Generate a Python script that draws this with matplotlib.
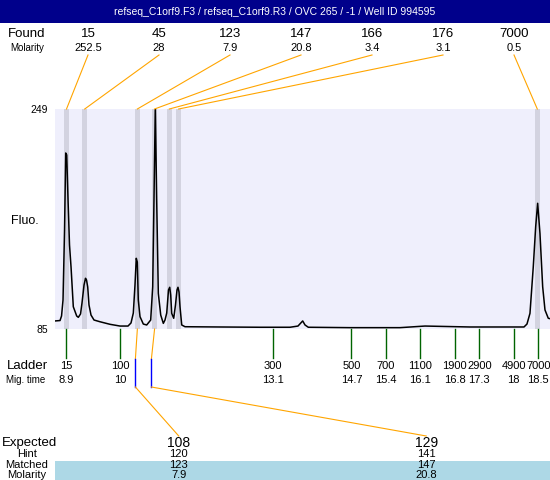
import numpy as np
import matplotlib
matplotlib.use('Agg')
import matplotlib.pyplot as plt
from matplotlib.patches import Rectangle

plt.rcParams['font.family'] = ['Liberation Sans', 'DejaVu Sans']

# --- data ---
title = 'refseq_C1orf9.F3 / refseq_C1orf9.R3 / OVC 265 / -1 / Well ID 994595'

found_size = ['15', '45', '123', '147', '166', '176', '7000']
found_molarity = ['252.5', '28', '7.9', '20.8', '3.4', '3.1', '0.5']
found_time = [8.91, 9.28, 10.35, 10.70, 11.00, 11.19, 18.48]

ladder_size = [15, 100, 300, 500, 700, 1100, 1900, 2900, 4900, 7000]
ladder_time = [8.9, 10, 13.1, 14.7, 15.4, 16.1, 16.8, 17.3, 18, 18.5]

expected = ['108', '129']
hint = [120, 141]
matched = ['123', '147']
matched_molarity = ['7.9', '20.8']
matched_time = [10.35, 10.70]

trace_time = [8.676, 8.778, 8.809, 8.839, 8.870, 8.894, 8.914, 8.941, 8.971, 9.002,
              9.048, 9.117, 9.150, 9.195, 9.225, 9.266, 9.296, 9.317, 9.341, 9.367,
              9.408, 9.469, 9.591, 9.794, 9.998, 10.160, 10.221, 10.268, 10.302, 10.328,
              10.349, 10.369, 10.404, 10.471, 10.540, 10.621, 10.662, 10.688, 10.715, 10.743,
              10.776, 10.825, 10.878, 10.912, 10.947, 10.983, 11.008, 11.028, 11.048, 11.089,
              11.125, 11.156, 11.176, 11.197, 11.217, 11.252, 11.319, 12.030, 12.843, 13.453,
              13.615, 13.711, 13.758, 13.825, 14.672, 15.689, 16.197, 17.111, 17.924, 18.209,
              18.270, 18.331, 18.398, 18.447, 18.487, 18.534, 18.589, 18.636, 18.703, 18.738]
trace_fluo = [91.0, 91.3, 94.7, 106.6, 158.8, 216.2, 214.7, 181.2, 147.6, 131.2,
              101.6, 94.7, 93.7, 96.2, 104.4, 117.8, 122.8, 121.5, 116.3, 102.9,
              95.4, 91.7, 90.4, 88.5, 87.2, 87.2, 89.5, 96.9, 117.8, 137.7,
              134.9, 106.6, 94.2, 88.7, 88.0, 91.7, 116.5, 181.2, 251.0, 181.2,
              111.6, 95.4, 89.2, 91.7, 96.9, 114.1, 116.1, 110.3, 96.7, 93.0,
              102.9, 114.1, 116.1, 112.6, 101.6, 88.0, 86.7, 86.5, 86.3, 86.3,
              87.2, 91.0, 88.0, 86.3, 86.0, 86.0, 87.2, 86.5, 86.5, 86.5,
              88.7, 96.7, 131.4, 161.3, 178.7, 156.3, 116.5, 99.2, 93.0, 92.7]

# --- layout (pixels) ---
W, H = 550, 480
L, R, T, B = 55, 550, 109, 329
navy = '#00008B'
orange = '#FFA500'

fig = plt.figure(figsize=(W / 100, H / 100), dpi=100)
ax = fig.add_axes([L / W, 1 - B / H, (R - L) / W, (B - T) / H])
ax.set_xlim(8.676, 18.738)
ax.set_ylim(85, 249)
ax.set_facecolor('#EFEFFC')
for s in ax.spines.values():
    s.set_visible(False)
ax.set_xticks([])
ax.set_yticks([85, 249])
ax.tick_params(axis='y', length=0, labelsize=7.5, pad=5)

for t in found_time:
    ax.axvspan(t - 0.05, t + 0.05, color='#D3D3E0', lw=0)
ax.plot(trace_time, trace_fluo, color='black', lw=1.1)

# overlay in pixel coordinates for the annotation bits
ov = fig.add_axes([0, 0, 1, 1])
ov.set_xlim(0, W)
ov.set_ylim(H, 0)
ov.axis('off')


def px(t, f=85):
    d = ax.transData.transform((t, f))
    return ov.transData.inverted().transform(d)


ov.add_patch(Rectangle((0, 0), W, 23, color=navy, lw=0))
ov.text(W / 2, 12, title, color='white', ha='center', va='center', fontsize=7.5)

ov.text(27, 34, 'Found', ha='center', va='center', fontsize=9.5)
ov.text(27, 48, 'Molarity', ha='center', va='center', fontsize=7)
ov.text(25, 221, 'Fluo.', ha='center', va='center', fontsize=9)
for i, (s, m, t) in enumerate(zip(found_size, found_molarity, found_time)):
    x = 88 + 71 * i
    ov.text(x, 34, s, ha='center', va='center', fontsize=9.5)
    ov.text(x, 48, m, ha='center', va='center', fontsize=8)
    bx = px(t)[0]
    ov.plot([x, bx], [55, T], color=orange, lw=0.8)

# ladder
ov.text(27, 366, 'Ladder', ha='center', va='center', fontsize=9.5)
ov.text(26, 380, 'Mig. time', ha='center', va='center', fontsize=7)
for s, t in zip(ladder_size, ladder_time):
    x = px(t)[0]
    ov.plot([x, x], [B, 358], color='#006400', lw=1)
    ov.text(x, 366, str(s), ha='center', va='center', fontsize=8)
    ov.text(x, 380, str(t), ha='center', va='center', fontsize=8)

# expected / matched table
ov.add_patch(Rectangle((L, 461), R - L, H - 461, color='#ADD8E6', lw=0))
ov.text(2, 443, 'Expected', ha='left', va='center', fontsize=9.5)
ov.text(27, 454, 'Hint', ha='center', va='center', fontsize=8)
ov.text(27, 465, 'Matched', ha='center', va='center', fontsize=8)
ov.text(27, 474.5, 'Molarity', ha='center', va='center', fontsize=8)
hint_time = np.interp(hint, ladder_size, ladder_time)
for i in range(len(expected)):
    cx = L + (R - L) * (0.25 + 0.5 * i)
    ov.text(cx, 443, expected[i], ha='center', va='center', fontsize=10)
    ov.text(cx, 454, str(hint[i]), ha='center', va='center', fontsize=8)
    ov.text(cx, 465, matched[i], ha='center', va='center', fontsize=8)
    ov.text(cx, 474.5, matched_molarity[i], ha='center', va='center', fontsize=8)
    mx = px(matched_time[i])[0]
    hx = px(hint_time[i])[0]
    ov.plot([mx, hx], [B, 359], color=orange, lw=0.8)
    ov.plot([hx, hx], [359, 387], color='blue', lw=1)
    ov.plot([hx, cx], [387, 436], color=orange, lw=0.8)

fig.savefig('out.png', dpi=100)
